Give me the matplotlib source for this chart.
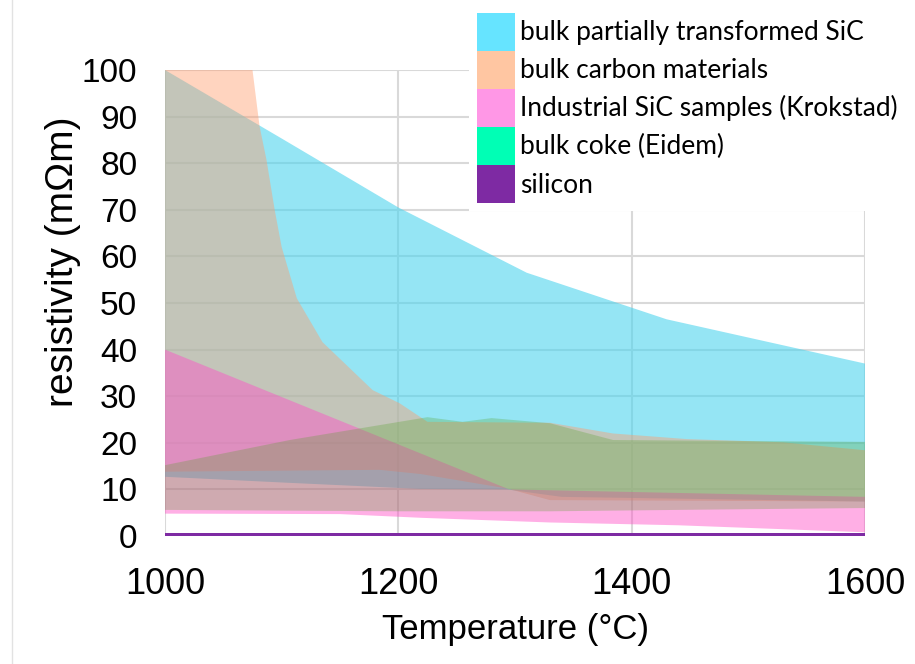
import matplotlib
matplotlib.use("Agg")
import matplotlib.pyplot as plt
from matplotlib.patches import Patch
from matplotlib.lines import Line2D
import numpy as np

# ---- data ----
labels = ["bulk partially transformed SiC", "bulk carbon materials",
          "Industrial SiC samples (Krokstad)", "bulk coke (Eidem)", "silicon"]

# bulk partially transformed SiC
T_sic_hi = [1000, 1100, 1200, 1310, 1430, 1600]
sic_hi = [100, 85.3, 70.5, 56.5, 46.5, 37]
T_sic_lo = [1000, 1107, 1219, 1293, 1340, 1600]
sic_lo = [12.7, 11.4, 10.1, 10.0, 8.4, 7.4]

# bulk carbon materials
T_carb_hi = [1000, 1075, 1081, 1087, 1094, 1100, 1113, 1135, 1178, 1201, 1225,
             1330, 1384, 1447, 1530, 1600]
carb_hi = [100, 100, 88, 80.7, 70, 62, 51, 41.6, 31.3, 28.5, 24.5,
           24.3, 22, 20.8, 20.1, 18.4]
T_carb_lo = [1000, 1184, 1219, 1293, 1330, 1600]
carb_lo = [13.8, 14.2, 13.3, 10.2, 7.7, 7.4]

# Industrial SiC samples (Krokstad)
T_ind_hi = [1000, 1295, 1600]
ind_hi = [40, 10.0, 8.4]
T_ind_lo = [1000, 1150, 1220, 1330, 1440, 1600]
ind_lo = [4.8, 4.7, 3.9, 2.9, 2.3, 0.8]

# bulk coke (Eidem)
T_coke_hi = [1000, 1107, 1225, 1255, 1280, 1330, 1384, 1600]
coke_hi = [15.2, 20.6, 25.5, 24.5, 25.3, 24.2, 20.6, 20.2]
T_coke_lo = [1000, 1200, 1330, 1440, 1600]
coke_lo = [5.6, 5.3, 5.3, 5.6, 6.0]

# silicon
T_si = [1000, 1600]
si_hi = [0.6, 0.6]
si_lo = [0, 0]

x_ticks = [1000, 1200, 1400, 1600]
y_ticks = list(range(0, 101, 10))

# ---- styles ----
legend_colors = ["#66E4FF", "#FFC6A2", "#FF97E6", "#00FFB5", "#7E2AA3"]
fill_colors = ["#4ED4EE", "#FF9D6E", "#FF4FC7", "#50A024", "#7E2AA3"]
fill_alpha = [0.6, 0.44, 0.45, 0.27, 1.0]

axis_font = "Liberation Sans"
legend_font = "Lato"

fig = plt.figure(figsize=(9.15, 6.64), dpi=100)
ax = fig.add_axes([165 / 915, 128 / 664, 700 / 915, 466 / 664])

bands = [
    (T_sic_hi, sic_hi, T_sic_lo, sic_lo),
    (T_carb_hi, carb_hi, T_carb_lo, carb_lo),
    (T_ind_hi, ind_hi, T_ind_lo, ind_lo),
    (T_coke_hi, coke_hi, T_coke_lo, coke_lo),
    (T_si, si_hi, T_si, si_lo),
]
for i, (th, yh, tl, yl) in enumerate(bands):
    xs = list(th) + list(tl)[::-1]
    ys = list(yh) + list(yl)[::-1]
    ax.fill(xs, ys, color=fill_colors[i], alpha=fill_alpha[i], lw=0, zorder=2 + i)

ax.set_xlim(1000, 1600)
ax.set_ylim(0, 100)
ax.set_xticks(x_ticks)
ax.set_yticks(y_ticks)
ax.set_axisbelow(True)
ax.grid(True, color="#D9D9D9", lw=1.5)
for s in ax.spines.values():
    s.set_visible(False)
ax.tick_params(axis="both", length=0)
ax.tick_params(axis="y", pad=20, labelsize=24)
ax.tick_params(axis="x", pad=22, labelsize=26)
for lab in ax.get_xticklabels() + ax.get_yticklabels():
    lab.set_fontfamily(axis_font)

ax.set_xlabel("Temperature (°C)", fontsize=25, fontfamily=axis_font)
ax.set_ylabel("resistivity (mΩm)", fontsize=28, fontfamily=axis_font)
ax.xaxis.set_label_coords(0.5, -0.165)
ax.yaxis.set_label_coords(-0.12, 0.588)

handles = [Patch(facecolor=c, edgecolor="none") for c in legend_colors]
fs = 19
fs_px = fs * 100 / 72
leg = fig.legend(handles, labels, loc="upper left",
                 bbox_to_anchor=(469 / 915, 1 - 5 / 664),
                 prop={"family": legend_font, "size": fs},
                 frameon=True, fancybox=False, facecolor="white", edgecolor="none",
                 framealpha=1, borderpad=0.3, labelspacing=0.0,
                 handlelength=38 / fs_px, handleheight=1.84,
                 handletextpad=0.2, borderaxespad=0)

fig.add_artist(Line2D([12 / 915, 12 / 915], [0, 1], color="#E2E2E2", lw=1))

fig.savefig("out.png", dpi=100)
